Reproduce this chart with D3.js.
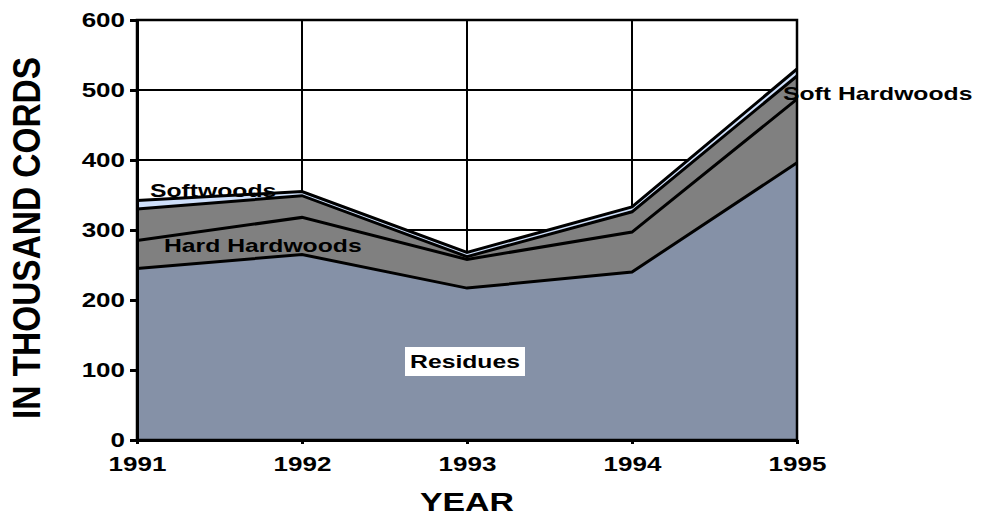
<!DOCTYPE html>
<html><head><meta charset="utf-8">
<script src="https://cdn.jsdelivr.net/npm/d3@7"></script>
<style>body{margin:0;background:#fff}svg{display:block;font-family:"Liberation Sans",Arial,sans-serif;font-weight:bold}</style>
</head><body><svg id="c" width="987" height="518"></svg>
<script>
const years = [1991, 1992, 1993, 1994, 1995];
const residues = [245, 265, 217, 240, 396];
const hardHardwoods = [40, 53, 41, 57, 91];
const softHardwoods = [45, 31, 4, 29, 33];
const softwoods = [12, 6, 6, 7, 10];
const yTicks = [0, 100, 200, 300, 400, 500, 600];
const seriesNames = ["Residues", "Hard Hardwoods", "Soft Hardwoods", "Softwoods"];
const seriesColors = ["#8591a7", "#808080", "#808080", "#cfe0fb"];

const STRETCH = 1.3;
const svg = d3.select("#c");
const x = d3.scaleLinear().domain([1991, 1995]).range([137, 797]);
const y = d3.scaleLinear().domain([0, 600]).range([440, 20]);

function stretch(sel) {
  sel.each(function() {
    const w = this.getComputedTextLength();
    d3.select(this).attr("textLength", w * STRETCH).attr("lengthAdjust", "spacingAndGlyphs");
  });
}

const rows = years.map((yr, i) => ({year: yr, "Residues": residues[i], "Hard Hardwoods": hardHardwoods[i], "Soft Hardwoods": softHardwoods[i], "Softwoods": softwoods[i]}));
const stack = d3.stack().keys(seriesNames)(rows);

// horizontal grid
svg.append("g").selectAll("line").data(yTicks).join("line")
  .attr("x1", 137).attr("x2", 797).attr("y1", d => y(d)).attr("y2", d => y(d))
  .attr("stroke", "#000").attr("stroke-width", 2);

const area = d3.area().x(d => x(d.data.year)).y0(d => y(d[0])).y1(d => y(d[1]));
const line = d3.line().x(d => x(d.data.year)).y(d => y(d[1]));

svg.append("g").selectAll("path").data(stack).join("path")
  .attr("d", area).attr("fill", (d, i) => seriesColors[i]);

svg.append("g").selectAll("line").data(years).join("line")
  .attr("x1", d => x(d)).attr("x2", d => x(d))
  .attr("y1", 20).attr("y2", (d, i) => y(stack[3][i][1]))
  .attr("stroke", "#000").attr("stroke-width", 2);

svg.append("g").selectAll("path").data(stack).join("path")
  .attr("d", line).attr("fill", "none").attr("stroke", "#000").attr("stroke-width", 3);

// frame
svg.append("rect").attr("x", 137).attr("y", 20).attr("width", 660).attr("height", 420)
  .attr("fill", "none").attr("stroke", "#000").attr("stroke-width", 2.5);

// axes
const yAxis = d3.axisLeft(y).tickValues(yTicks).tickSize(7).tickSizeOuter(0);
const gy = svg.append("g").attr("transform", "translate(137,0)").call(yAxis);
gy.select(".domain").attr("stroke-width", 3);
gy.selectAll(".tick line").attr("stroke-width", 3);
gy.selectAll("text").attr("font-size", 20).attr("font-weight", "bold").attr("fill", "#000").attr("x", -12)
  .attr("font-family", "Liberation Sans, Arial, sans-serif").call(stretch);

const xAxis = d3.axisBottom(x).tickValues(years).tickFormat(d3.format("d")).tickSize(4).tickSizeOuter(0);
const gx = svg.append("g").attr("transform", "translate(0,440)").call(xAxis);
gx.select(".domain").attr("stroke-width", 3);
gx.selectAll(".tick line").attr("stroke-width", 3);
gx.selectAll("text").attr("font-size", 20).attr("font-weight", "bold").attr("fill", "#000").attr("y", 31).attr("dy", null)
  .attr("font-family", "Liberation Sans, Arial, sans-serif").call(stretch);

// titles
svg.append("text").attr("x", 467).attr("y", 511).attr("text-anchor", "middle").attr("font-size", 26).text("YEAR").call(stretch);
svg.append("text").attr("transform", "translate(40,238) rotate(-90) scale(1,1.3)").attr("text-anchor", "middle")
  .attr("font-size", 30).attr("textLength", 362).attr("lengthAdjust", "spacingAndGlyphs").text("IN THOUSAND CORDS");

// series labels
svg.append("text").attr("x", 150).attr("y", 197).attr("font-size", 19).text("Softwoods").call(stretch);
svg.append("text").attr("x", 164).attr("y", 252).attr("font-size", 19).text("Hard Hardwoods").call(stretch);
svg.append("text").attr("x", 783).attr("y", 100).attr("font-size", 19).text("Soft Hardwoods").call(stretch);
svg.append("rect").attr("x", 405).attr("y", 347).attr("width", 120).attr("height", 29).attr("fill", "#fff");
svg.append("text").attr("x", 465).attr("y", 368).attr("text-anchor", "middle").attr("font-size", 19).text("Residues").call(stretch);
</script></body></html>
